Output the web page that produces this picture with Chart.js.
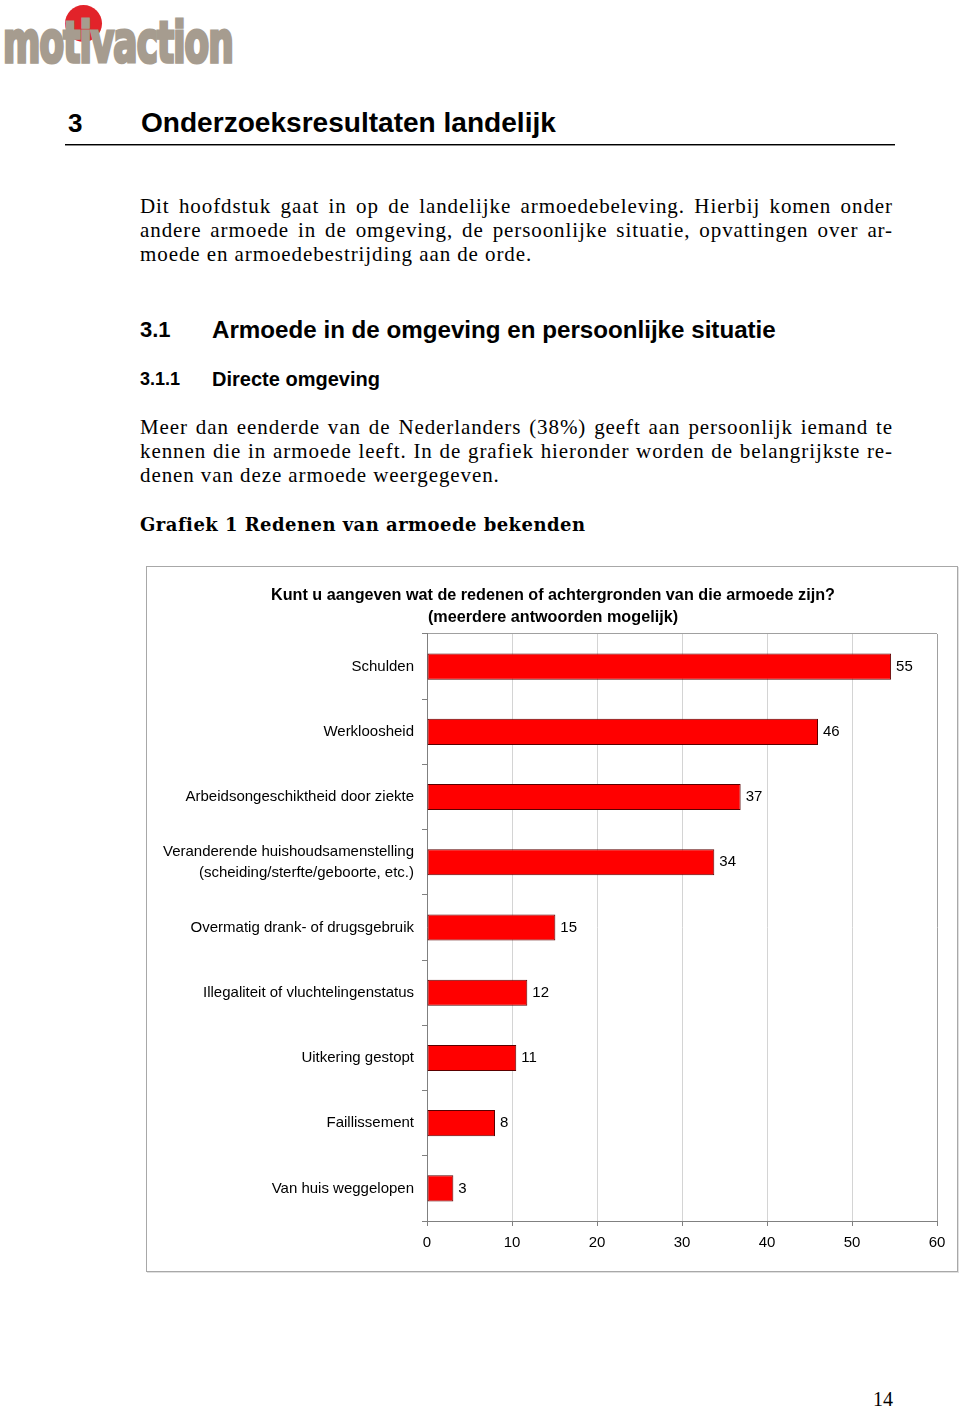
<!DOCTYPE html>
<html><head><meta charset="utf-8">
<script src="https://cdn.jsdelivr.net/npm/chart.js@4.4.1/dist/chart.umd.min.js"></script>
<style>
html,body{margin:0;padding:0;background:#fff;}
body{width:960px;height:1409px;position:relative;overflow:hidden;font-family:'Liberation Serif','Times New Roman',serif;color:#000;}
.a{position:absolute;white-space:nowrap;display:inline-block;}
.sans{font-family:'Liberation Sans',Arial,sans-serif;font-weight:bold;}
.txt{font-size:21px;line-height:24px;}
#chartbox{position:absolute;left:146px;top:566px;width:812px;height:706px;box-sizing:border-box;border:1px solid #a8a8a8;box-shadow:1px 1px 0 #e0e0e0;}
#chartbox canvas{position:absolute;left:0;top:0;}
</style></head><body>

<div class="a" style="left:65px;top:5px;width:37px;height:37px;border-radius:50%;background:#e2232a;"></div>
<div class="a" id="logotext" style="left:3px;top:14px;font-family:'DejaVu Sans Condensed','DejaVu Sans',sans-serif;font-weight:bold;font-size:44px;line-height:44px;letter-spacing:-1px;color:#a69c8f;-webkit-text-stroke:2.5px #a69c8f;transform-origin:0 0;">motivaction</div>

<div class="a sans" style="left:68px;top:107px;font-size:26px;line-height:32px;">3</div>
<div class="a sans fitf" data-w="415" style="left:141px;top:107px;font-size:26px;line-height:32px;">Onderzoeksresultaten landelijk</div>
<div class="a" style="left:65px;top:144px;width:830px;height:1px;background:#000;box-shadow:0 1px 0 rgba(0,0,0,0.45);"></div>

<div class="a txt bl j" style="left:140px;top:194px;">Dit hoofdstuk gaat in op de landelijke armoedebeleving. Hierbij komen onder</div>
<div class="a txt bl j" style="left:140px;top:218px;">andere armoede in de omgeving, de persoonlijke situatie, opvattingen over ar-</div>
<div class="a txt bl last" data-w="393" style="left:140px;top:242px;">moede en armoedebestrijding aan de orde.</div>

<div class="a sans" style="left:140px;top:315px;font-size:22px;line-height:30px;">3.1</div>
<div class="a sans fitf" data-w="564" style="left:212px;top:315px;font-size:22px;line-height:30px;">Armoede in de omgeving en persoonlijke situatie</div>

<div class="a sans" style="left:140px;top:366px;font-size:18px;line-height:26px;">3.1.1</div>
<div class="a sans fitf" data-w="168" style="left:212px;top:366px;font-size:18px;line-height:26px;">Directe omgeving</div>

<div class="a txt bl j" style="left:140px;top:415px;">Meer dan eenderde van de Nederlanders (38%) geeft aan persoonlijk iemand te</div>
<div class="a txt bl j" style="left:140px;top:439px;">kennen die in armoede leeft. In de grafiek hieronder worden de belangrijkste re-</div>
<div class="a txt bl last" data-w="359" style="left:140px;top:463px;">denen van deze armoede weergegeven.</div>

<div class="a" id="caption" data-w="444" style="left:140px;top:512px;font-family:'DejaVu Serif',serif;font-size:18px;line-height:26px;font-weight:bold;">Grafiek 1 Redenen van armoede bekenden</div>

<div id="chartbox"><canvas id="c" width="812" height="706"></canvas></div>

<div class="a txt" style="left:873px;top:1387px;font-size:20px;">14</div>

<script>
// ---- data ----
const categories = [
  'Schulden',
  'Werkloosheid',
  'Arbeidsongeschiktheid door ziekte',
  ['Veranderende huishoudsamenstelling', '(scheiding/sterfte/geboorte, etc.)'],
  'Overmatig drank- of drugsgebruik',
  'Illegaliteit of vluchtelingenstatus',
  'Uitkering gestopt',
  'Faillissement',
  'Van huis weggelopen'
];
const values = [54.6, 46, 36.9, 33.8, 15.1, 11.8, 10.5, 8, 3.1];
const valueLabels = ['55', '46', '37', '34', '15', '12', '11', '8', '3'];
const xTicks = [0, 10, 20, 30, 40, 50, 60];
const titleLines = ['Kunt u aangeven wat de redenen of achtergronden van die armoede zijn?', '(meerdere antwoorden mogelijk)'];

// ---- text fitting ----
(function(){
  const lt = document.getElementById('logotext');
  const w = lt.getBoundingClientRect().width;
  lt.style.transform = 'scale(' + (230 / w) + ',1.3)';

  document.querySelectorAll('.fitf').forEach(el => {
    const t = parseFloat(el.dataset.w);
    const w = el.getBoundingClientRect().width;
    const fs = parseFloat(getComputedStyle(el).fontSize);
    el.style.fontSize = (fs * t / w) + 'px';
  });

  const lasts = [...document.querySelectorAll('.last')];
  let ls = 0;
  lasts.forEach(el => {
    const w = el.getBoundingClientRect().width;
    ls += (parseFloat(el.dataset.w) - w) / el.textContent.length;
  });
  ls /= lasts.length;
  document.querySelectorAll('.bl').forEach(el => { el.style.letterSpacing = ls + 'px'; });
  document.querySelectorAll('.j').forEach(el => {
    const w = el.getBoundingClientRect().width;
    const n = (el.textContent.match(/ /g) || []).length;
    el.style.wordSpacing = ((753 - w) / n) + 'px';
  });
  const cap = document.getElementById('caption');
  const cw = cap.getBoundingClientRect().width;
  cap.style.letterSpacing = ((444 - cw) / cap.textContent.length) + 'px';
})();

// ---- chart ----
Chart.defaults.font.family = "'Liberation Sans', Arial, sans-serif";
Chart.defaults.color = '#000';

const valueLabelPlugin = {
  id: 'valueLabels',
  afterDatasetsDraw(chart) {
    const ctx = chart.ctx;
    const meta = chart.getDatasetMeta(0);
    ctx.save();
    ctx.font = "15px 'Liberation Sans', Arial, sans-serif";
    ctx.fillStyle = '#000';
    ctx.textAlign = 'left';
    ctx.textBaseline = 'middle';
    meta.data.forEach((bar, i) => { ctx.fillText(valueLabels[i], bar.x + 5, bar.y); });
    ctx.restore();
  }
};

new Chart(document.getElementById('c'), {
  type: 'bar',
  data: {
    labels: categories,
    datasets: [{
      data: values,
      backgroundColor: '#ff0000',
      borderColor: '#5a0000',
      borderWidth: 1,
      borderSkipped: false,
      barPercentage: 0.4,
      categoryPercentage: 1
    }]
  },
  options: {
    indexAxis: 'y',
    responsive: false,
    animation: false,
    events: [],
    layout: { padding: 0 },
    plugins: {
      legend: { display: false },
      tooltip: { enabled: false },
      title: {
        display: true,
        text: titleLines,
        color: '#000',
        font: { size: 16.2, weight: 'bold', lineHeight: 1.358 },
        padding: { top: 18, bottom: 5 }
      }
    },
    scales: {
      x: {
        type: 'linear',
        min: xTicks[0],
        max: xTicks[xTicks.length - 1],
        afterBuildTicks(s) { s.ticks = xTicks.map(v => ({ value: v })); },
        ticks: { font: { size: 15 }, color: '#000', padding: 8 },
        grid: {
          color: ctx => (ctx.tick && ctx.tick.value === 60) ? '#a0a0a0' : '#d4d4d4',
          tickColor: '#808080',
          tickLength: 5
        },
        border: { color: '#808080' },
        afterFit(s) { s.height = 52; s.paddingLeft = 0; s.paddingRight = 22; }
      },
      y: {
        type: 'category',
        ticks: { font: { size: 15, lineHeight: 1.4 }, color: '#000', padding: 8 },
        grid: {
          offset: true,
          color: ctx => ctx.index === 0 ? '#a0a0a0' : 'rgba(0,0,0,0)',
          tickColor: '#808080',
          tickLength: 5
        },
        border: { color: '#808080' },
        afterFit(s) { s.width = 280; s.paddingTop = 0; s.paddingBottom = 0; }
      }
    }
  },
  plugins: [valueLabelPlugin]
});
</script>
</body></html>
